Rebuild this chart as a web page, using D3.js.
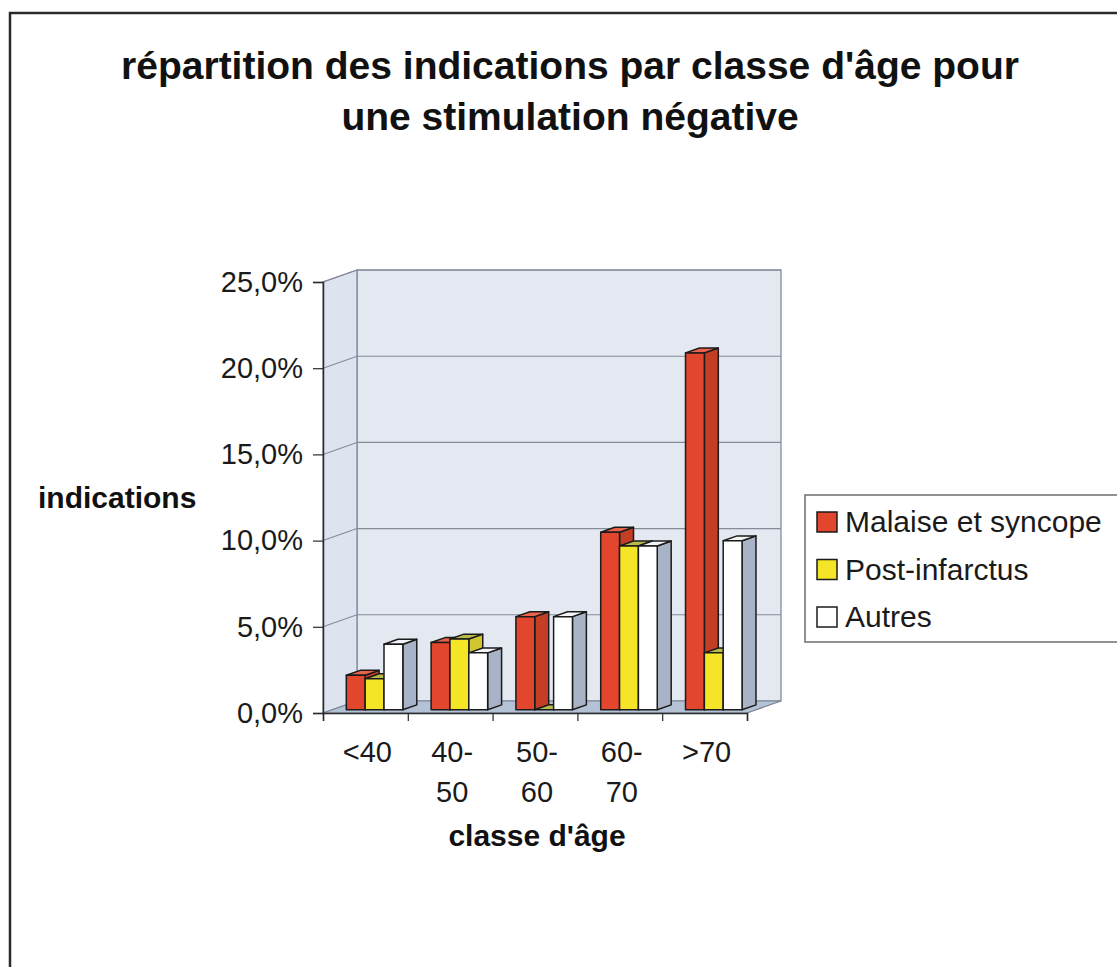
<!DOCTYPE html>
<html>
<head>
<meta charset="utf-8">
<script src="https://cdn.jsdelivr.net/npm/d3@7"></script>
<style>
  html, body { margin: 0; padding: 0; background: #ffffff; }
  svg { display: block; font-family: Arial, "Liberation Sans", sans-serif; }
</style>
</head>
<body>
<svg id="chart" width="1117" height="967"></svg>
<script>
// ---- data ----
const categories = ["<40", "40-50", "50-60", "60-70", ">70"];
const seriesNames = ["Malaise et syncope", "Post-infarctus", "Autres"];
const malaise = [0.020, 0.039, 0.054, 0.103, 0.207];
const postInfarctus = [0.018, 0.041, 0.000, 0.095, 0.033];
const autres = [0.038, 0.033, 0.054, 0.095, 0.098];
const yTicks = [0, 0.05, 0.10, 0.15, 0.20, 0.25];
const titleLines = ["répartition des indications par classe d'âge pour", "une stimulation négative"];
const yTitle = "indications";
const xTitle = "classe d'âge";

const seriesValues = [malaise, postInfarctus, autres];
const colors = [
  { front: "#e2462c", top: "#e8634a", side: "#c43e26" },
  { front: "#f4e626", top: "#b9b94c", side: "#cfc632" },
  { front: "#ffffff", top: "#f3f4f6", side: "#a9b3c7" }
];

const svg = d3.select("#chart");

// outer frame
svg.append("rect").attr("x", 10).attr("y", 13).attr("width", 1200).attr("height", 1000)
  .attr("fill", "#ffffff").attr("stroke", "#2a2a2a").attr("stroke-width", 2.5);

// title
const title = svg.append("text").attr("text-anchor", "middle")
  .attr("font-weight", "bold").attr("font-size", 39).attr("fill", "#111");
titleLines.forEach((l, i) => {
  title.append("tspan").attr("x", 570).attr("y", 79 + i * 51).text(l);
});

// geometry
const x0 = 323, x1 = 747;
const depth = { dx: 34, dy: -12 };
const y = d3.scaleLinear().domain([0, 0.25]).range([713, 282]);
const x = d3.scaleBand().domain(categories).range([x0, x1]).paddingInner(0).paddingOuter(0);
const bw = x.bandwidth();
const gap = bw * 1.5 / 4.5;
const xs = d3.scaleBand().domain(seriesNames).range([gap / 2, bw - gap / 2]).padding(0);
const barW = xs.bandwidth();
const f0 = 0.27, fd = 0.41;
const off = { dx: depth.dx * f0, dy: depth.dy * f0 };
const bd = { dx: depth.dx * fd, dy: depth.dy * fd };

const yTop = y(0.25), yBot = y(0);
const wallStroke = "#7b8493";

// back wall
svg.append("rect")
  .attr("x", x0 + depth.dx).attr("y", yTop + depth.dy)
  .attr("width", x1 - x0).attr("height", yBot - yTop)
  .attr("fill", "#e3e8f1").attr("stroke", wallStroke).attr("stroke-width", 1.2);
// left wall
svg.append("polygon")
  .attr("points", [[x0, yBot], [x0, yTop], [x0 + depth.dx, yTop + depth.dy], [x0 + depth.dx, yBot + depth.dy]].join(" "))
  .attr("fill", "#dde4ef").attr("stroke", wallStroke).attr("stroke-width", 1.2);
// floor
svg.append("polygon")
  .attr("points", [[x0, yBot], [x1, yBot], [x1 + depth.dx, yBot + depth.dy], [x0 + depth.dx, yBot + depth.dy]].join(" "))
  .attr("fill", "#b3c2d5").attr("stroke", wallStroke).attr("stroke-width", 1.2);

// gridlines
yTicks.filter(t => t > 0).forEach(t => {
  svg.append("line")
    .attr("x1", x0 + depth.dx).attr("x2", x1 + depth.dx)
    .attr("y1", y(t) + depth.dy).attr("y2", y(t) + depth.dy)
    .attr("stroke", "#858c97").attr("stroke-width", 1.1);
  svg.append("line")
    .attr("x1", x0).attr("x2", x0 + depth.dx)
    .attr("y1", y(t)).attr("y2", y(t) + depth.dy)
    .attr("stroke", "#858c97").attr("stroke-width", 1.1);
});

// bars
const barsG = svg.append("g");
categories.forEach((c, ci) => {
  seriesNames.forEach((s, si) => {
    const v = seriesValues[si][ci];
    const col = colors[si];
    const bx = x(c) + xs(s) + off.dx;
    const by0 = y(0) + off.dy;
    const by1 = y(v) + off.dy;
    const g = barsG.append("g").attr("stroke", "#1b1b1b").attr("stroke-width", 1.5).attr("stroke-linejoin", "round");
    g.append("polygon")
      .attr("points", [[bx + barW, by1], [bx + barW + bd.dx, by1 + bd.dy], [bx + barW + bd.dx, by0 + bd.dy], [bx + barW, by0]].join(" "))
      .attr("fill", col.side);
    g.append("polygon")
      .attr("points", [[bx, by1], [bx + barW, by1], [bx + barW + bd.dx, by1 + bd.dy], [bx + bd.dx, by1 + bd.dy]].join(" "))
      .attr("fill", col.top);
    g.append("rect")
      .attr("x", bx).attr("y", by1).attr("width", barW).attr("height", Math.max(0, by0 - by1))
      .attr("fill", col.front);
  });
});

// y axis
const fmt = d => d3.format(".1f")(d * 100).replace(".", ",") + "%";
const yAxis = svg.append("g").attr("transform", `translate(${x0},0)`)
  .call(d3.axisLeft(y).tickValues(yTicks).tickFormat(fmt).tickSize(10).tickPadding(10));
yAxis.select(".domain").attr("stroke", "#2a2a2a").attr("stroke-width", 1.5);
yAxis.selectAll(".tick line").attr("stroke", "#2a2a2a").attr("stroke-width", 1.2);
yAxis.selectAll(".tick text").attr("font-size", 29).attr("fill", "#1a1a1a")
  .attr("font-family", "Arial, 'Liberation Sans', sans-serif");

// x axis boundaries
const xb = d3.scaleLinear().domain([0, categories.length]).range([x0, x1]);
const xAxis = svg.append("g").attr("transform", `translate(0,${yBot})`)
  .call(d3.axisBottom(xb).tickValues(d3.range(categories.length + 1)).tickFormat("").tickSize(8));
xAxis.select(".domain").attr("stroke", "#2a2a2a").attr("stroke-width", 1.5);
xAxis.selectAll(".tick line").attr("stroke", "#2a2a2a").attr("stroke-width", 1.2);

// category labels
categories.forEach(c => {
  const parts = c.includes("-") ? [c.slice(0, c.indexOf("-") + 1), c.slice(c.indexOf("-") + 1)] : [c];
  const t = svg.append("text").attr("text-anchor", "middle").attr("font-size", 29).attr("fill", "#1a1a1a");
  parts.forEach((p, i) => {
    t.append("tspan").attr("x", x(c) + bw / 2 + 2).attr("y", 762 + i * 40).text(p);
  });
});

// axis titles
svg.append("text").attr("x", 38).attr("y", 508).attr("font-size", 30).attr("font-weight", "bold")
  .attr("fill", "#111").text(yTitle);
svg.append("text").attr("x", (x0 + x1) / 2 + 2).attr("y", 846).attr("text-anchor", "middle")
  .attr("font-size", 30).attr("font-weight", "bold").attr("fill", "#111").text(xTitle);

// legend
const lg = svg.append("g");
lg.append("rect").attr("x", 805).attr("y", 495).attr("width", 400).attr("height", 147)
  .attr("fill", "#ffffff").attr("stroke", "#6e6e6e").attr("stroke-width", 1.5);
seriesNames.forEach((s, i) => {
  const yy = 532 + i * 47.5;
  lg.append("rect").attr("x", 817).attr("y", yy - 20).attr("width", 20).attr("height", 20)
    .attr("fill", colors[i].front).attr("stroke", "#1b1b1b").attr("stroke-width", 1.5);
  lg.append("text").attr("x", 845).attr("y", yy).attr("font-size", 30).attr("fill", "#1a1a1a").text(s);
});
</script>
</body>
</html>
